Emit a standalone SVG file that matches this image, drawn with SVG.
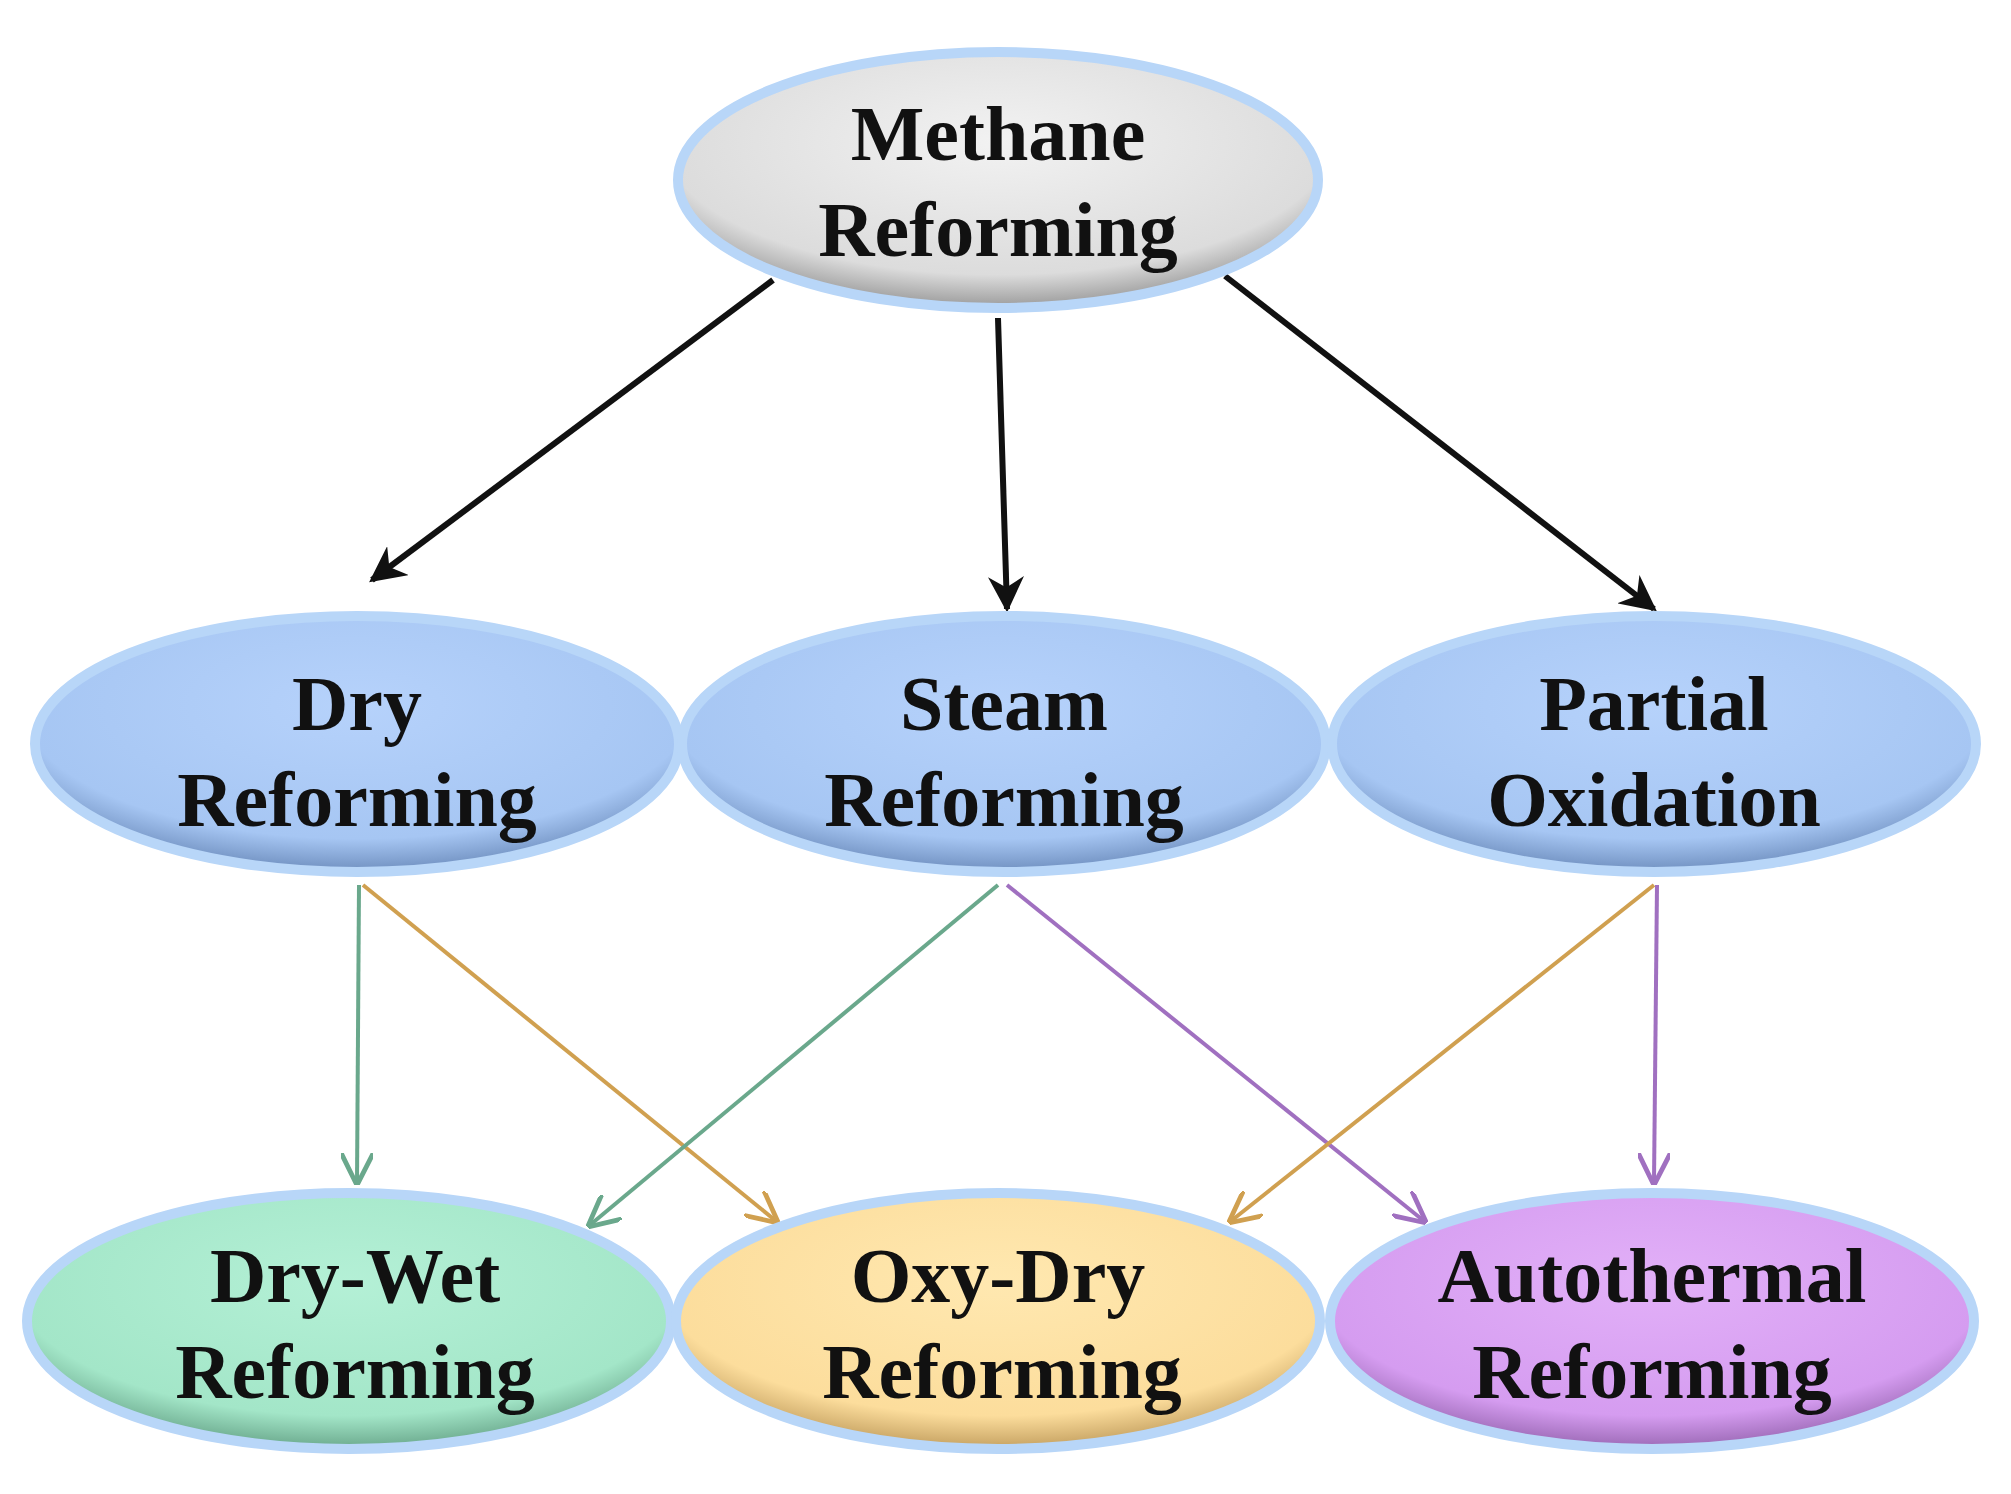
<svg xmlns="http://www.w3.org/2000/svg" width="2011" height="1494" viewBox="0 0 2011 1494">
<style>
.n{stroke:#b8d6f8;stroke-width:10}
.t{font-family:"Liberation Serif",serif;font-weight:bold;font-size:78px;text-anchor:middle;fill:#111}
.k{stroke:#111;stroke-width:6;fill:none}
.c{stroke-width:4;fill:none}
</style>
<defs>
<radialGradient id="gG" cx="0.5" cy="0.35" r="0.65"><stop offset="0" stop-color="#f2f2f2"/><stop offset="0.8" stop-color="#dcdcdc"/><stop offset="1" stop-color="#9a9a9a"/></radialGradient>
<radialGradient id="gB" cx="0.5" cy="0.35" r="0.65"><stop offset="0" stop-color="#b6d2fb"/><stop offset="0.8" stop-color="#a6c6f3"/><stop offset="1" stop-color="#6f8fbf"/></radialGradient>
<radialGradient id="gN" cx="0.5" cy="0.35" r="0.65"><stop offset="0" stop-color="#b4f0d6"/><stop offset="0.8" stop-color="#a3e6c8"/><stop offset="1" stop-color="#6aa88c"/></radialGradient>
<radialGradient id="gO" cx="0.5" cy="0.35" r="0.65"><stop offset="0" stop-color="#ffe8b0"/><stop offset="0.8" stop-color="#fcdd9c"/><stop offset="1" stop-color="#c4a060"/></radialGradient>
<radialGradient id="gP" cx="0.5" cy="0.35" r="0.65"><stop offset="0" stop-color="#e2b0f8"/><stop offset="0.8" stop-color="#d59cf0"/><stop offset="1" stop-color="#9a68b4"/></radialGradient>
<marker id="ak" viewBox="0 0 10 10" refX="9" refY="5" markerWidth="6" markerHeight="6" orient="auto"><path d="M0,0L10,5L0,10L3,5z" fill="#111"/></marker>
<marker id="ag" viewBox="0 0 10 10" refX="9" refY="5" markerWidth="8" markerHeight="8" orient="auto"><path d="M0,0L10,5L0,10" fill="none" stroke="#6aa88c" stroke-width="1.5"/></marker>
<marker id="ao" viewBox="0 0 10 10" refX="9" refY="5" markerWidth="8" markerHeight="8" orient="auto"><path d="M0,0L10,5L0,10" fill="none" stroke="#d0a050" stroke-width="1.5"/></marker>
<marker id="ap" viewBox="0 0 10 10" refX="9" refY="5" markerWidth="8" markerHeight="8" orient="auto"><path d="M0,0L10,5L0,10" fill="none" stroke="#a070c0" stroke-width="1.5"/></marker>
</defs>
<rect width="2011" height="1494" fill="#fff"/>
<g id="connectors">
<line class="k" x1="773" y1="280" x2="372" y2="580" marker-end="url(#ak)"/>
<line class="k" x1="998" y1="318" x2="1007" y2="609" marker-end="url(#ak)"/>
<line class="k" x1="1225" y1="276" x2="1654" y2="609" marker-end="url(#ak)"/>
<line class="c" stroke="#6aa88c" x1="359" y1="885" x2="357" y2="1182" marker-end="url(#ag)"/>
<line class="c" stroke="#d0a050" x1="363" y1="885" x2="776" y2="1221" marker-end="url(#ao)"/>
<line class="c" stroke="#6aa88c" x1="998" y1="885" x2="590" y2="1225" marker-end="url(#ag)"/>
<line class="c" stroke="#a070c0" x1="1007" y1="885" x2="1424" y2="1221" marker-end="url(#ap)"/>
<line class="c" stroke="#d0a050" x1="1654" y1="885" x2="1231" y2="1221" marker-end="url(#ao)"/>
<line class="c" stroke="#a070c0" x1="1657" y1="885" x2="1654" y2="1182" marker-end="url(#ap)"/>
</g>
<g id="methane"><ellipse class="n" cx="998" cy="180" rx="320" ry="128" fill="url(#gG)"/><text class="t" x="998" y="160">Methane</text><text class="t" x="998" y="256">Reforming</text></g>
<g id="dry"><ellipse class="n" cx="357" cy="744" rx="322" ry="128" fill="url(#gB)"/><text class="t" x="357" y="730">Dry</text><text class="t" x="357" y="826">Reforming</text></g>
<g id="steam"><ellipse class="n" cx="1004" cy="744" rx="322" ry="128" fill="url(#gB)"/><text class="t" x="1004" y="730">Steam</text><text class="t" x="1004" y="826">Reforming</text></g>
<g id="partial"><ellipse class="n" cx="1654" cy="744" rx="322" ry="128" fill="url(#gB)"/><text class="t" x="1654" y="730">Partial</text><text class="t" x="1654" y="826">Oxidation</text></g>
<g id="drywet"><ellipse class="n" cx="349" cy="1321" rx="322" ry="128" fill="url(#gN)"/><text class="t" x="355" y="1302">Dry-Wet</text><text class="t" x="355" y="1398">Reforming</text></g>
<g id="oxydry"><ellipse class="n" cx="998" cy="1321" rx="322" ry="128" fill="url(#gO)"/><text class="t" x="998" y="1302">Oxy-Dry</text><text class="t" x="1002" y="1398">Reforming</text></g>
<g id="autothermal"><ellipse class="n" cx="1652" cy="1321" rx="322" ry="128" fill="url(#gP)"/><text class="t" x="1652" y="1302">Autothermal</text><text class="t" x="1652" y="1398">Reforming</text></g>
</svg>
